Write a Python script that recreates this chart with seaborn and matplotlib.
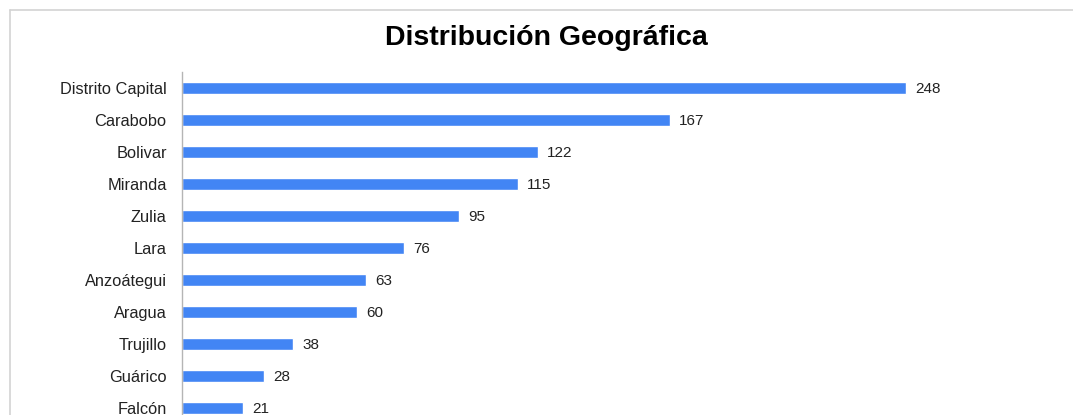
import matplotlib
matplotlib.use("Agg")
import matplotlib.pyplot as plt
import seaborn as sns
import pandas as pd
from matplotlib.lines import Line2D

states = ["Distrito Capital", "Carabobo", "Bolivar", "Miranda", "Zulia", "Lara",
          "Anzoátegui", "Aragua", "Trujillo", "Guárico", "Falcón"]
counts = [248, 167, 122, 115, 95, 76, 63, 60, 38, 28, 21]

df = pd.DataFrame({"estado": states, "total": counts})

sns.set_theme(style="white")
plt.rcParams["font.family"] = ["Liberation Sans", "DejaVu Sans"]

W, H = 1073, 415
fig = plt.figure(figsize=(W / 100, H / 100), dpi=100)
fig.patch.set_facecolor("white")

# axes: left edge x=182px, top y=72px, bottom at figure bottom
ax_left = 182 / W
ax_top = 1 - 72 / H
ax_w = (300 * 2.92) / W
ax = fig.add_axes([ax_left, 0, ax_w, ax_top])

sns.barplot(data=df, y="estado", x="total", orient="h", color="#4285f4",
            width=0.36, saturation=1, ax=ax)

ax.set_xlim(0, 300)
ax.set_ylim(10.22, -0.5)
ax.set_xlabel("")
ax.set_ylabel("")
ax.set_xticks([])
ax.tick_params(axis="y", length=0, pad=11, labelsize=11.8, labelcolor="#222222")
for s in ["top", "right", "bottom"]:
    ax.spines[s].set_visible(False)
ax.spines["left"].set_color("#b5b5b5")
ax.spines["left"].set_linewidth(1)

for i, v in enumerate(counts):
    ax.annotate(str(v), xy=(v, i), xytext=(6.5, 0), textcoords="offset points",
                va="center_baseline", ha="left", fontsize=11, color="#222222")

fig.text(546 / W, 1 - 38 / H, "Distribución Geográfica", ha="center", va="center",
         fontsize=20.5, fontweight="bold", color="#000000")

# outer frame (top and left edges visible)
fig.add_artist(Line2D([10 / W, 1.0], [1 - 10 / H, 1 - 10 / H], transform=fig.transFigure,
                      color="#d3d3d3", lw=1.2))
fig.add_artist(Line2D([10 / W, 10 / W], [0, 1 - 10 / H], transform=fig.transFigure,
                      color="#d3d3d3", lw=1.2))

fig.savefig("out.png", dpi=100, facecolor="white")
